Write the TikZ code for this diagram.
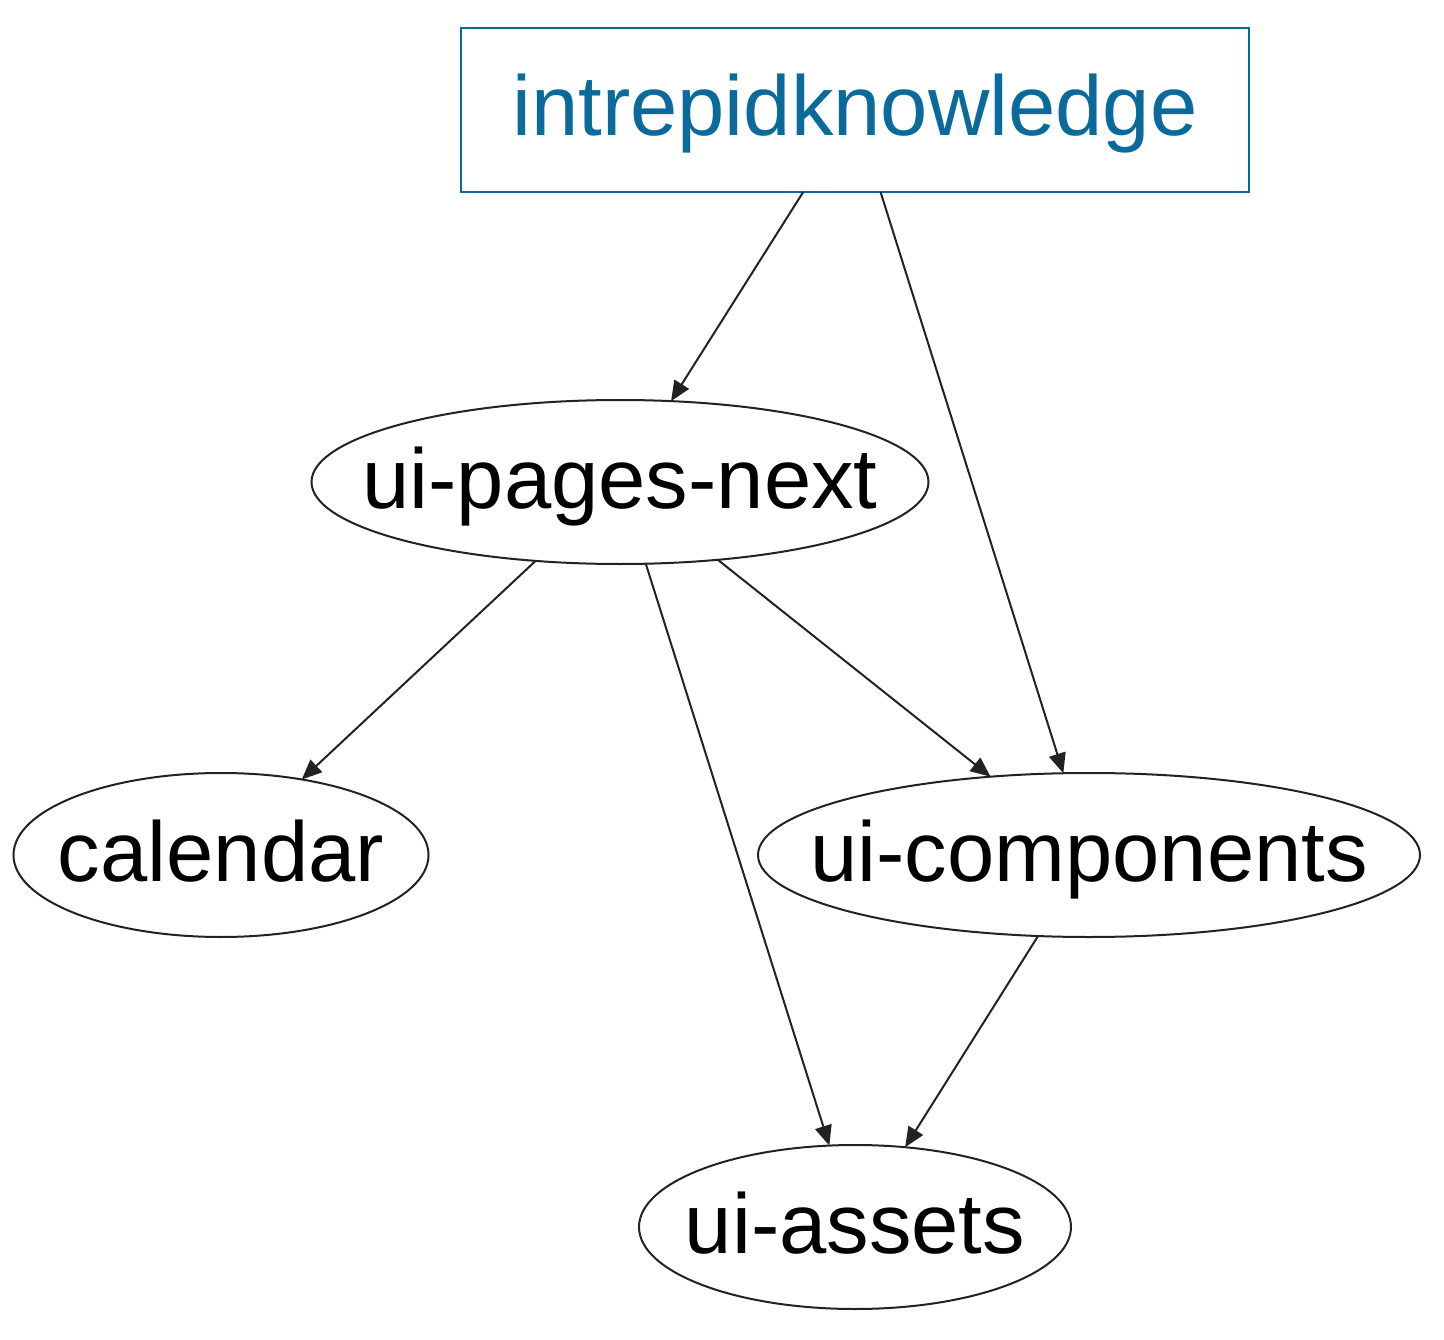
\documentclass[tikz,border=0pt]{standalone}
\usepackage{fontspec}
\setmainfont{Liberation Sans}
\usetikzlibrary{arrows.meta,shapes.geometric}
\definecolor{kblue}{HTML}{0B6A9C}
\definecolor{edgec}{HTML}{222222}
\newcommand{\lbltxt}[1]{\makebox[0pt]{#1}}
\begin{document}
\begin{tikzpicture}[x=1pt,y=-1pt,
  every node/.style={font=\fontsize{85pt}{100pt}\selectfont, inner sep=0pt, outer sep=0pt, text height=52pt, text depth=0pt},
  pkg/.style={draw=edgec, line width=2pt, ellipse, minimum height=164pt},
  rootbox/.style={draw=kblue, line width=2pt, rectangle, minimum width=788pt, minimum height=164pt, text=kblue},
  dep/.style={draw=edgec, line width=2pt, -{Triangle[length=20pt,width=17pt]}}]
\useasboundingbox (0,0) rectangle (1444,1340);
\node[rootbox] (root) at (855,110) {\lbltxt{intrepidknowledge}};
\node[pkg, minimum width=617pt] (pages) at (620,482) {\lbltxt{ui-pages-next}};
\node[pkg, minimum width=415pt] (cal) at (221,855) {\lbltxt{calendar}};
\node[pkg, minimum width=662pt] (comp) at (1089,855) {\lbltxt{ui-components}};
\node[pkg, minimum width=432pt] (assets) at (855,1227) {\lbltxt{ui-assets}};
\draw[dep] (root) -- (pages);
\draw[dep] (root) -- (comp);
\draw[dep] (pages) -- (cal);
\draw[dep] (pages) -- (assets);
\draw[dep] (pages) -- (comp);
\draw[dep] (comp) -- (assets);
\end{tikzpicture}
\end{document}
